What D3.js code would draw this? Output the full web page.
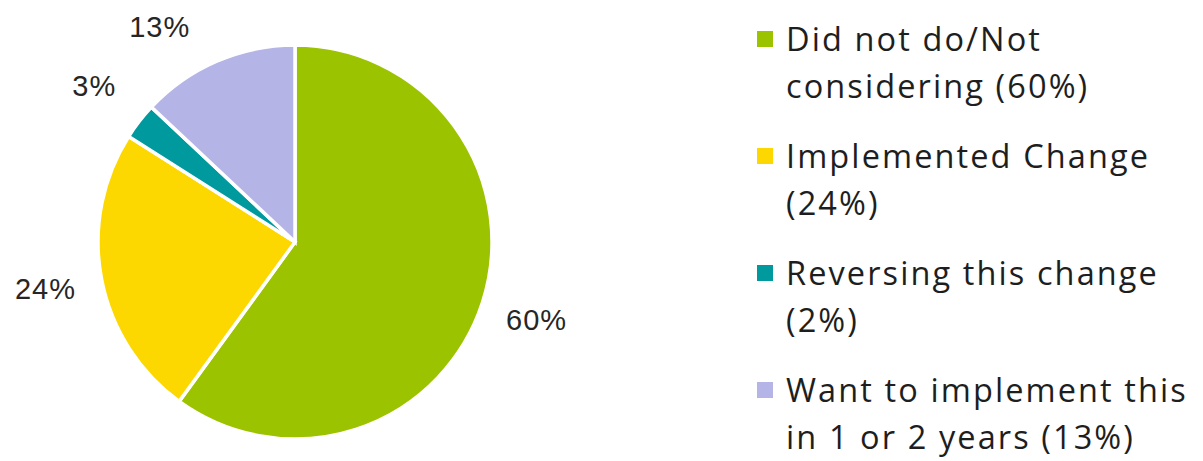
<!DOCTYPE html>
<html>
<head>
<meta charset="utf-8">
<script src="https://cdn.jsdelivr.net/npm/d3@7"></script>
<style>
  html, body { margin: 0; padding: 0; background: #ffffff; }
  svg { display: block; }
</style>
</head>
<body>
<svg id="chart" width="1203" height="461"></svg>
<script>
// Survey response shares
const categories = [
  "Did not do/Not considering",
  "Implemented Change",
  "Reversing this change",
  "Want to implement this in 1 or 2 years"
];
const values = [60, 24, 3, 13];
const sliceLabels = ["60%", "24%", "3%", "13%"];
const legendLines = [
  ["Did not do/Not", "considering (60%)"],
  ["Implemented Change", "(24%)"],
  ["Reversing this change", "(2%)"],
  ["Want to implement this", "in 1 or 2 years (13%)"]
];
const colors = ["#9cc300", "#fcd800", "#009a9e", "#b4b4e6"];

const svg = d3.select("#chart");

const cx = 295, cy = 242, radius = 197;
const labelRadius = 254;
const topLimit = 27;

const color = d3.scaleOrdinal().domain(categories).range(colors);

const pie = d3.pie().sort(null).value(d => d.value);
const data = categories.map((c, i) => ({ name: c, value: values[i], label: sliceLabels[i] }));
const arcs = pie(data);

const arc = d3.arc().innerRadius(0).outerRadius(radius);

const g = svg.append("g").attr("transform", `translate(${cx},${cy})`);

g.selectAll("path.slice")
  .data(arcs)
  .join("path")
  .attr("class", "slice")
  .attr("d", arc)
  .attr("fill", d => color(d.data.name))
  .attr("stroke", "#ffffff")
  .attr("stroke-width", 3.5)
  .attr("stroke-linejoin", "miter");

// Data labels placed outside each slice along its mid-angle,
// pulled down along the label circle if they would leave the top edge.
function labelPos(d) {
  let a = (d.startAngle + d.endAngle) / 2;
  let x = Math.sin(a) * labelRadius;
  let y = -Math.cos(a) * labelRadius;
  if (cy + y < topLimit) {
    const cosA = (cy - topLimit) / labelRadius;
    const side = Math.sign(Math.sin(a)) || 1;
    a = Math.acos(cosA);
    x = side * Math.sin(a) * labelRadius;
    y = -cosA * labelRadius;
  }
  return [x, y];
}

g.selectAll("text.pct")
  .data(arcs)
  .join("text")
  .attr("class", "pct")
  .attr("x", d => labelPos(d)[0])
  .attr("y", d => labelPos(d)[1])
  .attr("dy", "0.33em")
  .attr("text-anchor", "middle")
  .attr("font-family", "'Liberation Sans', Arial, sans-serif")
  .attr("font-size", 29)
  .attr("letter-spacing", 1)
  .attr("fill", "#262626")
  .text(d => d.data.label);

// Legend
const legendX = 757, legendY0 = 51, itemGap = 117, lineGap = 46.5;
const legend = svg.append("g");
const items = legend.selectAll("g.item")
  .data(categories)
  .join("g")
  .attr("class", "item")
  .attr("transform", (d, i) => `translate(${legendX},${legendY0 + i * itemGap})`);

items.append("rect")
  .attr("x", 0)
  .attr("y", -20)
  .attr("width", 16)
  .attr("height", 16)
  .attr("fill", d => color(d));

items.append("text")
  .attr("font-family", "'Open Sans', 'Noto Sans', sans-serif")
  .attr("font-size", 32.5)
  .attr("letter-spacing", 2.1)
  .attr("fill", "#1e1e1e")
  .selectAll("tspan")
  .data((d, i) => legendLines[i])
  .join("tspan")
  .attr("x", 29)
  .attr("y", (d, j) => j * lineGap)
  .text(d => d);
</script>
</body>
</html>
